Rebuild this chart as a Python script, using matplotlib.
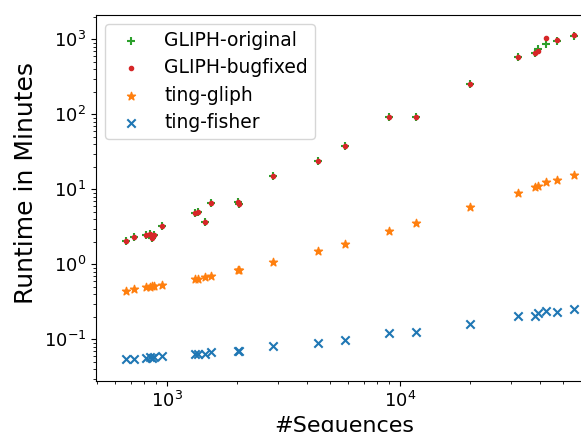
import matplotlib
matplotlib.use("Agg")
import matplotlib.pyplot as plt

n_sequences = [668, 721, 817, 847, 860, 882, 955, 1324, 1364, 1462, 1551,
               2017, 2047, 2849, 4449, 5814, 8941, 11720, 20010, 31990,
               37860, 39160, 42390, 47260, 55720]

gliph_original = [2.05, 2.29, 2.46, 2.51, 2.22, 2.46, 3.27, 4.79, 4.98, 3.70,
                  6.63, 6.83, 6.31, 15.2, 24.0, 38.1, 92.0, 92.9, 253.5, 575,
                  650, 736, 865, 940, 1107]
gliph_bugfixed = [2.05, 2.29, 2.46, 2.51, 2.22, 2.46, 3.27, 4.79, 4.98, 3.70,
                  6.63, 6.83, 6.31, 15.2, 24.0, 38.1, 92.0, 92.9, 253.5, 575,
                  650, 698, 1031, 979, 1141]
ting_gliph = [0.440, 0.469, 0.494, 0.503, 0.509, 0.514, 0.525, 0.643, 0.637,
              0.671, 0.705, 0.839, 0.839, 1.08, 1.52, 1.88, 2.81, 3.50, 5.72,
              8.92, 10.7, 11.2, 12.4, 13.2, 15.7]
ting_fisher = [0.0543, 0.0550, 0.0567, 0.0575, 0.0555, 0.0572, 0.0595, 0.0637,
               0.0633, 0.0637, 0.0673, 0.0698, 0.0705, 0.0807, 0.0885, 0.0979,
               0.1225, 0.1263, 0.1614, 0.2045, 0.2063, 0.222, 0.2405, 0.2333,
               0.256]

W, H = 581, 432
fig = plt.figure(figsize=(W / 100, H / 100), dpi=100)
left, right, top, bottom = 96, 592, 15, 381
ax = fig.add_axes([left / W, 1 - bottom / H, (right - left) / W, (bottom - top) / H])

ax.scatter(n_sequences, gliph_original, marker="+", color="C2", label="GLIPH-original")
ax.scatter(n_sequences, gliph_bugfixed, marker=".", color="C3", label="GLIPH-bugfixed")
ax.scatter(n_sequences, ting_gliph, marker="*", color="C1", label="ting-gliph")
ax.scatter(n_sequences, ting_fisher, marker="x", color="C0", label="ting-fisher")

ax.set_xscale("log")
ax.set_yscale("log")
ax.set_xlim(497, 66700)
ax.set_ylim(0.0278, 2109)
ax.tick_params(labelsize=13)
ax.set_xlabel("#Sequences", fontsize=16)
ax.set_ylabel("Runtime in Minutes", fontsize=18, y=0.54)
ax.legend(loc="upper left", fontsize=13.5, labelspacing=0.45, borderpad=0.35)

fig.savefig("out.png", dpi=100)
